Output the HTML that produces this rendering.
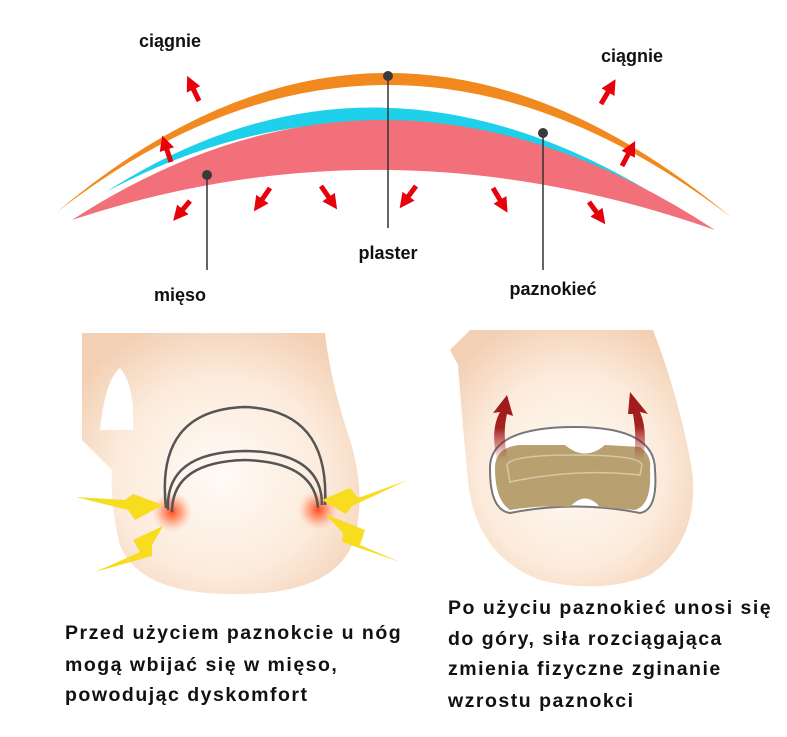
<!DOCTYPE html>
<html><head><meta charset="utf-8"><style>
body{margin:0;background:#fff;width:787px;height:732px;overflow:hidden}
text{font-family:"Liberation Sans",sans-serif;font-weight:bold;fill:#111}
.t{font-size:19.5px;letter-spacing:1.5px}
</style></head><body>
<svg width="787" height="732" viewBox="0 0 787 732" xmlns="http://www.w3.org/2000/svg">
<defs>
<radialGradient id="skin" cx="0.5" cy="0.55" r="0.62">
<stop offset="0" stop-color="#fffbf6"/><stop offset="0.6" stop-color="#fcebdc"/><stop offset="1" stop-color="#f3d0b4"/>
</radialGradient>
<radialGradient id="glow"><stop offset="0" stop-color="#ff4a1a"/><stop offset="0.5" stop-color="#ff7a50" stop-opacity="0.6"/><stop offset="1" stop-color="#ffb090" stop-opacity="0"/></radialGradient>
<linearGradient id="ar" x1="0" y1="1" x2="0" y2="0"><stop offset="0" stop-color="#a01818" stop-opacity="0"/><stop offset="0.5" stop-color="#a52020"/><stop offset="1" stop-color="#a01818"/></linearGradient>
<marker id="m" viewBox="0 0 10 10" refX="4" refY="5" markerWidth="3" markerHeight="3" orient="auto"><path d="M0,0L10,5L0,10z" fill="#e8000a"/></marker>
</defs>
<!-- top arcs -->
<path d="M106,192 Q388,10 694,220 Q388,40 106,192z" fill="#1fd0ea"/>
<path d="M72,220 Q388,15 715,230 Q388,115 72,220z" fill="#f2707a"/>
<path d="M57,212 Q388,-69 732,218 Q388,-45 57,212z" fill="#f2891e"/>
<g stroke="#333" stroke-width="1.5">
<line x1="388" y1="76" x2="388" y2="228"/><line x1="207" y1="175" x2="207" y2="270"/><line x1="543" y1="133" x2="543" y2="270"/></g>
<g fill="#3a3a3a"><circle cx="388" cy="76" r="5"/><circle cx="207" cy="175" r="5"/><circle cx="543" cy="133" r="5"/></g>
<g stroke="#e8000a" stroke-width="5" marker-end="url(#m)">
<line x1="199" y1="101" x2="191" y2="84"/><line x1="171" y1="162" x2="165" y2="144"/>
<line x1="601" y1="104" x2="611" y2="87"/><line x1="622" y1="166" x2="631" y2="149"/>
<line x1="190" y1="201" x2="179" y2="214"/><line x1="270" y1="188" x2="259" y2="204"/>
<line x1="321" y1="186" x2="332" y2="202"/><line x1="416" y1="186" x2="405" y2="201"/>
<line x1="493" y1="188" x2="503" y2="205"/><line x1="589" y1="202" x2="600" y2="217"/>
</g>
<text x="170" y="47" font-size="18" text-anchor="middle">ciągnie</text>
<text x="632" y="62" font-size="18" text-anchor="middle">ciągnie</text>
<text x="388" y="259" font-size="18" text-anchor="middle">plaster</text>
<text x="180" y="301" font-size="18" text-anchor="middle">mięso</text>
<text x="553" y="295" font-size="18" text-anchor="middle">paznokieć</text>
<!-- left toe -->
<path d="M82,333 L325,333 Q330,380 350,440 Q368,500 352,545 Q330,595 235,594 Q140,595 120,545 Q110,505 112,470 L82,440z" fill="url(#skin)"/>
<path d="M100,430 Q105,380 120,368 Q135,385 133,430z" fill="#fff"/>
<circle cx="172" cy="512" r="20" fill="url(#glow)"/><circle cx="318" cy="510" r="20" fill="url(#glow)"/>
<g fill="none" stroke="#555" stroke-width="2.5">
<path d="M166,508 Q155,410 245,407 Q330,410 325,505"/>
<path d="M168,510 Q165,452 245,451 Q322,452 322,505"/>
<path d="M172,512 Q172,462 245,460 Q315,462 318,508"/>
</g>
<g fill="#f7dc20">
<path d="M76,497 L125,500 L133,494 L163,505 L135,520 L128,510z"/>
<path d="M95,572 L140,552 L133,540 L163,526 L152,545 L152,556z"/>
<path d="M408,480 L358,498 L350,488 L322,500 L346,514 L352,506z"/>
<path d="M400,562 L360,545 L365,530 L325,514 L343,533 L342,542z"/>
</g>
<!-- right toe -->
<path d="M470,330 L653,330 Q680,400 692,470 Q700,540 650,575 Q600,595 540,580 Q475,555 468,480 Q462,420 458,365 L450,350z" fill="url(#skin)"/>
<path d="M490,470 Q488,427 575,427 Q655,427 655,470 Q658,510 640,513 Q575,500 510,513 Q490,510 490,470z" fill="#fff" stroke="#777" stroke-width="2"/>
<path d="M495,468 Q495,447 520,445 L565,445 Q585,462 605,445 L640,447 Q652,455 650,470 Q652,505 635,510 Q610,508 600,507 Q585,490 570,507 Q540,505 510,510 Q495,500 495,468z" fill="#b8a070"/>
<path d="M507,465 Q510,455 575,455 Q640,455 642,465 L640,475 Q575,468 510,482z" fill="none" stroke="#d8c8a8" stroke-width="1.5"/>
<path d="M497,460 Q490,430 500,412 L493,413 L507,395 L513,416 L507,414 Q502,435 508,460z" fill="url(#ar)"/>
<path d="M643,460 Q648,430 640,412 L648,414 L630,392 L628,414 L633,414 Q637,435 634,460z" fill="url(#ar)"/>
<!-- captions -->
<text class="t" x="65" y="639">Przed użyciem paznokcie u nóg</text>
<text class="t" x="65" y="671">mogą wbijać się w mięso,</text>
<text class="t" x="65" y="701">powodując dyskomfort</text>
<text class="t" x="448" y="614">Po użyciu paznokieć unosi się</text>
<text class="t" x="448" y="645">do góry, siła rozciągająca</text>
<text class="t" x="448" y="675">zmienia fizyczne zginanie</text>
<text class="t" x="448" y="707">wzrostu paznokci</text>
</svg>
</body></html>
